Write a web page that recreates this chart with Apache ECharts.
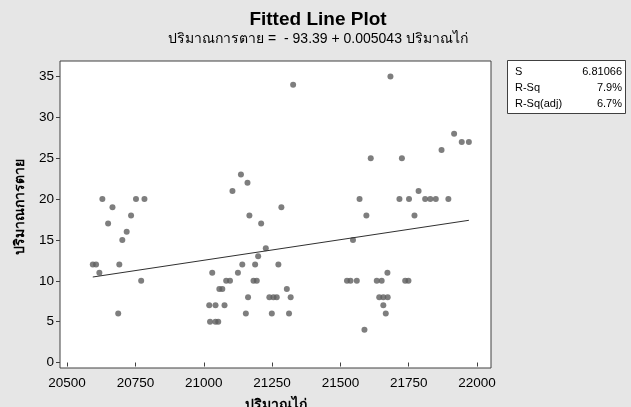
<!DOCTYPE html>
<html>
<head>
<meta charset="utf-8">
<script src="https://cdn.jsdelivr.net/npm/echarts@6/dist/echarts.min.js"></script>
<style>
    html, body { margin: 0; padding: 0; background: #e6e6e6; }
    #chart { width: 631px; height: 407px; }
</style>
</head>
<body>
<div id="chart"></div>
<script>
    // ปริมาณไก่ (x) และ ปริมาณการตาย (y) อ่านค่าจากภาพ
    const chickenX = [
        20629, 20666, 20752, 20783, 20734, 20650, 20718, 20702, 20594, 20606, 20691, 20618, 20771, 20687,
        21327, 21136, 21160, 21105, 21284, 21167, 21210, 21227, 21199, 21141, 21188, 21273, 21031, 21125,
        21082, 21096, 21182, 21194, 21057, 21068, 21304, 21162, 21240, 21255, 21267, 21318, 21020, 21043,
        21076, 21154, 21249, 21312, 21023, 21043, 21053,
        21683, 21916, 21944, 21970, 21870, 21611, 21725, 21786, 21570, 21716, 21751, 21810, 21829, 21849,
        21895, 21595, 21771, 21546, 21672, 21524, 21537, 21560, 21633, 21651, 21737, 21749, 21642, 21657,
        21673, 21657, 21666, 21588
    ]
    const deathY = [
        20, 19, 20, 20, 18, 17, 16, 15, 12, 12, 12, 11, 10, 6,
        34, 23, 22, 21, 19, 18, 17, 14, 13, 12, 12, 12, 11, 11,
        10, 10, 10, 10, 9, 9, 9, 8, 8, 8, 8, 8, 7, 7,
        7, 6, 6, 6, 5, 5, 5,
        35, 28, 27, 27, 26, 25, 25, 21, 20, 20, 20, 20, 20, 20,
        20, 18, 18, 15, 11, 10, 10, 10, 10, 10, 10, 10, 8, 8,
        8, 7, 6, 4
    ]
    const xTicks = [20500, 20750, 21000, 21250, 21500, 21750, 22000]
    const yTicks = [0, 5, 10, 15, 20, 25, 30, 35]
    // สมการถดถอย
    const intercept = -93.39
    const slope = 0.005043
    const statNames = ['S', 'R-Sq', 'R-Sq(adj)']
    const statValues = ['6.81066', '7.9%', '6.7%']

    const points = chickenX.map((x, i) => [x, deathY[i]])
    const xLo = Math.min(...chickenX)
    const xHi = Math.max(...chickenX)
    const fitLine = [[xLo, intercept + slope * xLo], [xHi, intercept + slope * xHi]]

    const font = 'Liberation Sans, DejaVu Sans, sans-serif'
    const chart = echarts.init(document.getElementById('chart'))

    // กล่องสถิติด้านขวา
    const statGraphics = [{
        type: 'rect',
        shape: { x: 507.5, y: 60.5, width: 118, height: 53 },
        style: { fill: '#fff', stroke: '#404040', lineWidth: 1 }
    }]
    statNames.forEach((name, i) => {
        statGraphics.push({
            type: 'text', x: 515, y: 72 + i * 16,
            style: { text: name, font: '11px ' + font, fill: '#000', verticalAlign: 'middle' }
        })
        statGraphics.push({
            type: 'text', x: 622, y: 72 + i * 16,
            style: { text: statValues[i], font: '11px ' + font, fill: '#000', align: 'right', verticalAlign: 'middle' }
        })
    })

    chart.setOption({
        backgroundColor: '#e6e6e6',
        animation: false,
        title: {
            text: 'Fitted Line Plot',
            subtext: 'ปริมาณการตาย =  - 93.39 + 0.005043 ปริมาณไก่',
            left: 313,
            textAlign: 'center',
            top: 5,
            itemGap: 3,
            textStyle: { fontSize: 19, fontWeight: 'bold', color: '#000', fontFamily: font },
            subtextStyle: { fontSize: 14, color: '#000', fontFamily: font }
        },
        grid: {
            left: 60, right: 140, top: 61, bottom: 39,
            outerBoundsMode: 'none',
            show: true, backgroundColor: '#fff', borderColor: '#404040', borderWidth: 1
        },
        xAxis: {
            type: 'value',
            min: 20474, max: 22051,
            name: 'ปริมาณไก่',
            nameLocation: 'middle',
            nameGap: 30,
            nameTextStyle: { fontSize: 14, fontWeight: 'bold', color: '#000', fontFamily: font },
            axisLine: { show: false },
            splitLine: { show: false },
            axisTick: { show: true, length: 4, lineStyle: { color: '#404040' }, customValues: xTicks },
            axisLabel: {
                customValues: xTicks, fontSize: 13.5, color: '#000', fontFamily: font, margin: 8,
                formatter: v => String(v)
            }
        },
        yAxis: {
            type: 'value',
            min: -0.67, max: 36.9,
            name: 'ปริมาณการตาย',
            nameLocation: 'middle',
            nameGap: 33,
            nameTextStyle: { fontSize: 14, fontWeight: 'bold', color: '#000', fontFamily: font, padding: [0, 0, 0, 16] },
            axisLine: { show: false },
            splitLine: { show: false },
            axisTick: { show: true, length: 4, lineStyle: { color: '#404040' }, customValues: yTicks },
            axisLabel: { customValues: yTicks, fontSize: 13.5, color: '#000', fontFamily: font, margin: 6 }
        },
        series: [
            {
                type: 'scatter',
                data: points,
                symbolSize: 6,
                itemStyle: { color: '#5e5e5e' }
            },
            {
                type: 'line',
                data: fitLine,
                showSymbol: false,
                lineStyle: { color: '#303030', width: 1 }
            }
        ],
        graphic: statGraphics
    })
</script>
</body>
</html>
